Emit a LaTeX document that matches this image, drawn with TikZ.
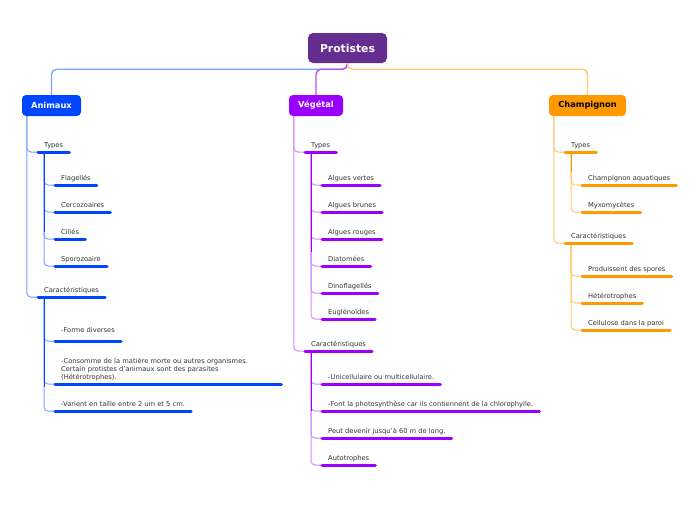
\documentclass[tikz,border=0pt]{standalone}
\usepackage{fontspec}
\setmainfont{DejaVu Sans}
\definecolor{croot}{HTML}{662D91}
\definecolor{cblue}{HTML}{0046FF}
\definecolor{lblue}{HTML}{7FA2FF}
\definecolor{cpurp}{HTML}{9B00FF}
\definecolor{lpurp}{HTML}{D08CFF}
\definecolor{corange}{HTML}{FF9900}
\definecolor{lorange}{HTML}{FFC870}
\definecolor{ctext}{HTML}{333333}
\begin{document}
\begin{tikzpicture}[x=1pt,y=-1pt,
  main/.style={rounded corners=4pt, minimum height=21pt, inner sep=0pt,
    font=\bfseries\fontsize{8.3}{10}\selectfont, text=white},
  rootbox/.style={rounded corners=5pt, minimum height=30pt, inner sep=0pt,
    font=\bfseries\fontsize{10.8}{12}\selectfont, text=white, fill=croot},
  item/.style={anchor=south west, inner xsep=6pt, inner ysep=3pt,
    text height=5pt, text depth=1.5pt, font=\fontsize{6.7}{8}\selectfont, text=ctext},
  itemm/.style={anchor=south west, inner xsep=6pt, inner ysep=3pt, align=left,
    font=\fontsize{6.7}{8}\selectfont, text=ctext},
  ul/.style={line width=3pt, line cap=round},
  conn/.style={line width=1pt, rounded corners=4pt},
  topc/.style={line width=1.4pt, rounded corners=5pt}]
\useasboundingbox (0,0) rectangle (696,520);

% main nodes
\node[rootbox, minimum width=79pt] (root) at (347.5,48) {Protistes};
\node[main, fill=cblue, minimum width=59pt] (ani) at (51.5,105.5) {Animaux};
\node[main, fill=cpurp, minimum width=54pt] (veg) at (316,105.5) {Végétal};
\node[main, fill=corange, minimum width=77pt, text=black] (cha) at (587.5,105.5) {Champignon};

% top connectors
\draw[topc, draw=lblue] (root.south) -- ++(0,6) -| (ani.north);
\draw[topc, draw=cpurp!70] (root.south) -- ++(0,6) -| (veg.north);
\draw[topc, draw=lorange] (root.south) -- ++(0,6) -| (cha.north);

% ---------- Animaux ----------
\node[item] (aT) at (38,152) {Types};
\node[item] (a1) at (55,185) {Flagellés};
\node[item] (a2) at (55,212) {Cercozoaires};
\node[item] (a3) at (55,239) {Ciliés};
\node[item] (a4) at (55,266) {Sporozoaire};
\node[item] (aC) at (38,297) {Caractéristiques};
\node[item, text depth=5.5pt] (a5) at (55,341) {-Forme diverses};
\node[itemm, text width=214pt] (a6) at (55,384) {-Consomme de la matière morte ou autres organismes.\\Certain protistes d'animaux sont des parasites\\(Hétérotrophes).};
\node[item] (a7) at (55,411) {-Varient en taille entre 2 um et 5 cm.};

\foreach \n in {aT,aC} \draw[conn, draw=lblue] (ani.south west) ++(5,0) |- (\n.south west);
\foreach \n in {a1,a2,a3,a4} \draw[conn, draw=lblue] (aT.south west) ++(6,0) |- (\n.south west);
\foreach \n in {a5,a6,a7} \draw[conn, draw=lblue] (aC.south west) ++(6,0) |- (\n.south west);
\draw[line width=1pt, draw=cblue] (aT.south west) ++(6,0) -- ++(0,80);
\draw[line width=1pt, draw=cblue] (aC.south west) ++(6,0) -- ++(0,90);
\foreach \n in {aT,a1,a2,a3,a4,aC,a5,a6,a7} \draw[ul, draw=cblue] (\n.south west) -- (\n.south east);

% ---------- Végétal ----------
\node[item] (vT) at (305,152) {Types};
\node[item] (v1) at (322,185) {Algues vertes};
\node[item] (v2) at (322,212) {Algues brunes};
\node[item] (v3) at (322,239) {Algues rouges};
\node[item] (v4) at (322,266) {Diatomées};
\node[item] (v5) at (322,293) {Dinoflagellés};
\node[item] (v6) at (322,319) {Euglénoïdes};
\node[item] (vC) at (305,351) {Caractéristiques};
\node[item] (v7) at (322,384) {-Unicellulaire ou multicellulaire.};
\node[item] (v8) at (322,411) {-Font la photosynthèse car ils contiennent de la chlorophylle.};
\node[item] (v9) at (322,438) {Peut devenir jusqu'à 60 m de long.};
\node[item] (v10) at (322,465) {Autotrophes};

\foreach \n in {vT,vC} \draw[conn, draw=lpurp] (veg.south west) ++(5,0) |- (\n.south west);
\foreach \n in {v1,v2,v3,v4,v5,v6} \draw[conn, draw=lpurp] (vT.south west) ++(6,0) |- (\n.south west);
\foreach \n in {v7,v8,v9,v10} \draw[conn, draw=lpurp] (vC.south west) ++(6,0) |- (\n.south west);
\draw[line width=1pt, draw=cpurp] (vT.south west) ++(6,0) -- ++(0,100);
\draw[line width=1pt, draw=cpurp] (vC.south west) ++(6,0) -- ++(0,60);
\foreach \n in {vT,v1,v2,v3,v4,v5,v6,vC,v7,v8,v9,v10} \draw[ul, draw=cpurp] (\n.south west) -- (\n.south east);

% ---------- Champignon ----------
\node[item] (cT) at (565,152) {Types};
\node[item] (c1) at (582,185) {Champignon aquatiques};
\node[item] (c2) at (582,212) {Myxomycètes};
\node[item] (cC) at (565,243) {Caractéristiques};
\node[item] (c3) at (582,276) {Produissent des spores};
\node[item] (c4) at (582,303) {Hétérotrophes};
\node[item] (c5) at (582,330) {Cellulose dans la paroi};

\foreach \n in {cT,cC} \draw[conn, draw=lorange] (cha.south west) ++(5,0) |- (\n.south west);
\foreach \n in {c1,c2} \draw[conn, draw=lorange] (cT.south west) ++(6,0) |- (\n.south west);
\foreach \n in {c3,c4,c5} \draw[conn, draw=lorange] (cC.south west) ++(6,0) |- (\n.south west);
\draw[line width=1pt, draw=corange] (cT.south west) ++(6,0) -- ++(0,20);
\foreach \n in {cT,c1,c2,cC,c3,c4,c5} \draw[ul, draw=corange] (\n.south west) -- (\n.south east);
\end{tikzpicture}
\end{document}
